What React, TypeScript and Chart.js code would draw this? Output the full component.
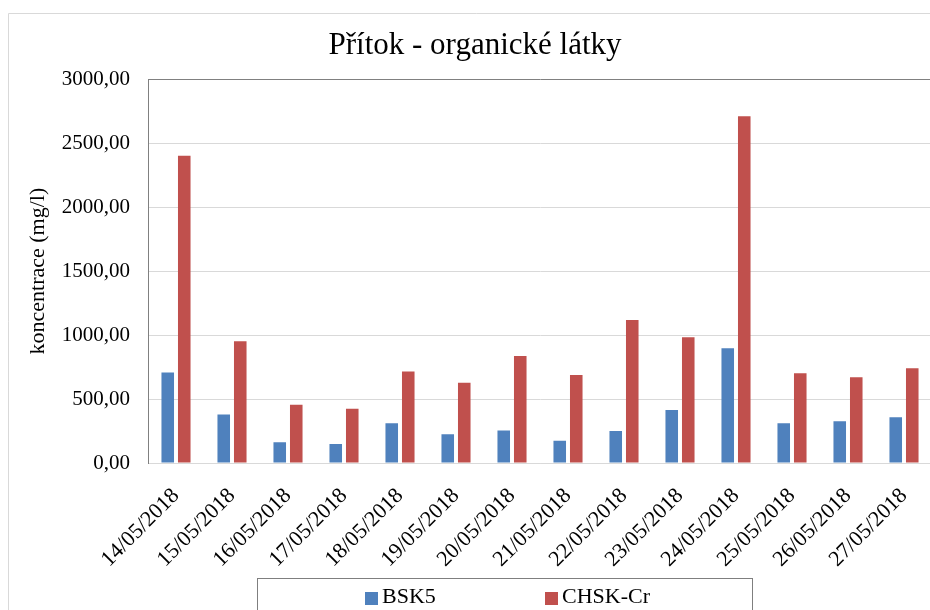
import React, { useEffect, useRef } from "react";
import { Chart, registerables } from "chart.js";

Chart.register(...registerables);

const categories = [
  "14/05/2018", "15/05/2018", "16/05/2018", "17/05/2018", "18/05/2018",
  "19/05/2018", "20/05/2018", "21/05/2018", "22/05/2018", "23/05/2018",
  "24/05/2018", "25/05/2018", "26/05/2018", "27/05/2018",
];
const bsk5 = [708, 380, 162, 148, 310, 224, 255, 174, 250, 414, 896, 310, 326, 357];
const chskCr = [2401, 951, 456, 424, 716, 628, 836, 688, 1117, 982, 2711, 701, 670, 740];
const seriesNames = ["BSK5", "CHSK-Cr"];
const seriesColors = ["#4f81bd", "#c0504d"];
const titleText = "Přítok - organické látky";
const yTitle = "koncentrace (mg/l)";

const FONT = "'Liberation Serif', 'Times New Roman', serif";

const framePlugin = {
  id: "frame",
  beforeDraw(chart: any) {
    const ctx = chart.ctx;
    ctx.save();
    ctx.fillStyle = "#ffffff";
    ctx.fillRect(0, 0, chart.width, chart.height);
    ctx.strokeStyle = "#d9d9d9";
    ctx.lineWidth = 1;
    ctx.beginPath();
    ctx.moveTo(8.5, chart.height);
    ctx.lineTo(8.5, 13.5);
    ctx.lineTo(chart.width, 13.5);
    ctx.stroke();
    ctx.restore();
  },
  afterDraw(chart: any) {
    const ctx = chart.ctx;
    ctx.save();
    ctx.strokeStyle = "#7f7f7f";
    ctx.lineWidth = 1;
    ctx.strokeRect(257.5, 578.5, 495, 45);
    const xs = [365, 545];
    ctx.font = `22px ${FONT}`;
    ctx.textBaseline = "middle";
    ctx.textAlign = "left";
    chart.data.datasets.forEach((ds: any, i: number) => {
      ctx.fillStyle = ds.backgroundColor;
      ctx.fillRect(xs[i], 592, 13, 13);
      ctx.fillStyle = "#000000";
      ctx.fillText(ds.label, xs[i] + 17, 597);
    });
    ctx.restore();
  },
};

export default function App() {
  const ref = useRef<HTMLCanvasElement | null>(null);
  useEffect(() => {
    if (!ref.current) return;
    const chart = new Chart(ref.current, {
      type: "bar",
      data: {
        labels: categories,
        datasets: [
          { label: seriesNames[0], data: bsk5, backgroundColor: seriesColors[0] },
          { label: seriesNames[1], data: chskCr, backgroundColor: seriesColors[1] },
        ],
      },
      options: {
        animation: false,
        responsive: false,
        devicePixelRatio: 1,
        categoryPercentage: 0.59,
        barPercentage: 0.76,
        layout: { padding: { left: 18, right: 13, top: 0, bottom: 57 } },
        plugins: {
          legend: { display: false },
          tooltip: { enabled: false },
          title: {
            display: true,
            text: titleText,
            color: "#000000",
            font: { family: FONT, size: 31, weight: "normal" },
            padding: { top: 27, bottom: 15 },
          },
        },
        scales: {
          x: {
            grid: { display: false },
            border: { display: true, color: "#d9d9d9" },
            ticks: {
              autoSkip: false,
              maxRotation: 45,
              minRotation: 45,
              color: "#000000",
              font: { family: FONT, size: 22 },
              padding: 12,
            },
            afterFit: (s: any) => { s.height = 110; },
          },
          y: {
            min: 0,
            max: 3000,
            ticks: {
              stepSize: 500,
              color: "#000000",
              font: { family: FONT, size: 21 },
              padding: 18,
              callback: (v: any) => Number(v).toFixed(2).replace(".", ","),
            },
            grid: {
              drawTicks: false,
              color: (c: any) => (c.tick && c.tick.value === 3000 ? "#808080" : "#d9d9d9"),
            },
            border: { display: true, color: "#808080" },
            title: {
              display: true,
              text: yTitle,
              color: "#000000",
              font: { family: FONT, size: 22 },
              padding: { top: 7, bottom: 0 },
            },
            afterFit: (s: any) => { s.width = 130; },
          },
        },
      },
      plugins: [framePlugin],
    });
    return () => chart.destroy();
  }, []);
  return (
    <div style={{ position: "fixed", left: 0, top: 0, width: 930, height: 610, overflow: "hidden", background: "#fff" }}>
      <canvas ref={ref} width={945} height={630} style={{ display: "block" }} />
    </div>
  );
}
